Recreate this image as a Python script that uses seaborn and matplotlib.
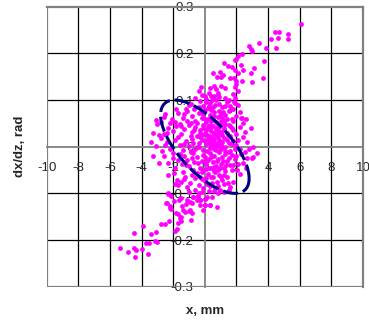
import numpy as np
import pandas as pd
import matplotlib
matplotlib.use("Agg")
import matplotlib.pyplot as plt
import seaborn as sns

# ---- data -----------------------------------------------------------
x_ticks = [-10, -8, -6, -4, -2, 0, 2, 4, 6, 8, 10]
x_tick_labels = ["-10", "-8", "-6", "-4", "-2", "0", "2", "4", "6", "8", "10"]
y_ticks = [-0.3, -0.2, -0.1, 0.0, 0.1, 0.2, 0.3]
y_tick_labels = ["-0.3", "-0.2", "-0.1", "0", "0.1", "0.2", "0.3"]

x_label = "x, mm"
y_label = "dx/dz, rad"

# upper-right tail of the particle cloud
tail_up_x = [6.08, 4.44, 4.71, 5.26, 5.24, 4.65, 4.19, 4.48, 3.87, 3.43, 2.80, 2.92, 3.01,
             2.38, 2.08, 2.00, 1.91, 3.77, 1.22, 2.31, 1.49, 1.70, 3.09, 2.44, 0.97, 0.54,
             2.12, 2.92, 1.14, 0.76, 1.01, 1.56, 1.85, 3.70, 2.00, 2.38, 3.01, 1.96, 0.61,
             1.01, 1.28, -0.23, 0.34, 0.69, 2.12, -0.40, 0.27, 0.82, 1.77, -0.19, 0.38,
             0.90, 1.91, 1.88, 1.90, 1.87]
tail_up_y = [0.262, 0.246, 0.246, 0.241, 0.231, 0.233, 0.230, 0.211, 0.211, 0.222, 0.216,
             0.209, 0.204, 0.198, 0.195, 0.188, 0.185, 0.183, 0.179, 0.174, 0.172, 0.170,
             0.168, 0.164, 0.161, 0.158, 0.157, 0.157, 0.154, 0.149, 0.149, 0.148, 0.148,
             0.148, 0.141, 0.141, 0.138, 0.135, 0.129, 0.130, 0.125, 0.127, 0.125, 0.124,
             0.120, 0.119, 0.114, 0.116, 0.113, 0.111, 0.109, 0.106, 0.105, 0.165, 0.128,
             0.095]

# lower-left tail of the particle cloud
tail_dn_x = [-5.39, -4.89, -4.51, -4.36, -4.42, -3.98, -3.60, -3.71, -3.52, -4.51, -3.88,
             -3.39, -3.16, -3.03, -3.12, -2.78, -2.51, -2.27, -1.86, -1.77, -1.67, -1.52,
             -1.60, -1.48, -0.85, -1.83, -1.67, -1.39, -0.99, -0.82, -2.11, -2.46, -2.19,
             -1.92, -1.64, -1.42, -1.18, -1.14, -0.93, -2.34, -2.15, -0.72, -0.44, 0.00,
             0.33, -0.30, 0.02]
tail_dn_y = [-0.216, -0.226, -0.218, -0.221, -0.237, -0.220, -0.230, -0.207, -0.207,
             -0.184, -0.169, -0.187, -0.202, -0.205, -0.182, -0.166, -0.166, -0.159,
             -0.180, -0.177, -0.164, -0.159, -0.153, -0.150, -0.157, -0.143, -0.145,
             -0.136, -0.138, -0.141, -0.134, -0.121, -0.127, -0.116, -0.115, -0.127,
             -0.123, -0.114, -0.118, -0.101, -0.105, -0.107, -0.105, -0.125, -0.125,
             -0.114, -0.112]

# dense core of the cloud
core_x = [
    -0.9, -0.6, -0.3, -0.1, 0.1, 0.3, 0.5, 0.7, 0.9, 1.1, 1.4, 1.6, 0.2, -0.4, 0.6, 1.9,
    -1.2, 0.0, 0.4, 1.3,
    -3.1, -2.6, -2.5, -2.1, -1.7, -1.4, -1.1, -0.8, -0.6, -0.4, -0.2, 0.0, 0.1, 0.3, 0.5,
    0.6, 0.8, 1.0, 1.2, 1.3, 1.5, 1.7, 2.0, 2.3, 2.4, -1.9, -0.9, 0.4, 1.1, -0.1, 0.7,
    -1.3, -2.8, 0.2, 0.9, 2.34, 1.60,
    -3.0, -2.9, -2.6, -2.3, -2.0, -1.8, -1.5, -1.3, -1.0, -0.8, -0.6, -0.5, -0.3, -0.1,
    0.0, 0.2, 0.3, 0.4, 0.5, 0.6, 0.7, 0.8, 0.9, 1.0, 1.1, 1.2, 1.4, 1.5, 1.6, 1.8, 2.0,
    2.2, 2.55, -1.6, -0.9, 0.1, 0.55, 1.3, 1.7, -0.2, 0.35, 0.85, 1.05,
    -3.1, -2.8, -2.4, -2.5, -2.2, -1.9, -1.6, -1.4, -1.2, -1.0, -0.8, -0.6, -0.4, -0.2,
    -0.1, 0.1, 0.2, 0.3, 0.4, 0.5, 0.6, 0.7, 0.8, 0.9, 1.0, 1.1, 1.2, 1.3, 1.5, 1.6, 1.8,
    2.0, 2.2, 2.65, 3.07, 2.55, 0.15, 0.45, 0.75, 1.05, -0.35, 0.95, 1.4, -0.75, 0.25,
    0.65,
    -2.6, -2.3, -2.0, -1.88, -1.7, -1.45, -1.14, -1.0, -0.72, -0.7, -0.5, -0.3, -0.1,
    0.02, 0.1, 0.2, 0.35, 0.4, 0.5, 0.6, 0.7, 0.8, 0.9, 1.0, 1.1, 1.2, 1.3, 1.4, 1.6,
    1.7, 1.9, 2.1, 2.3, 2.65, 2.97, 3.28, 3.07, -0.9, -0.2, 0.55, 0.85, 1.5, 0.3, -1.3,
    0.05,
    -2.3, -1.98, -1.77, -1.67, -1.4, -1.24, -1.1, -0.93, -0.72, -0.6, -0.4, -0.3, -0.09,
    0.0, 0.2, 0.3, 0.44, 0.54, 0.6, 0.76, 0.9, 1.07, 1.18, 1.39, 1.49, 1.6, 1.70, 1.81,
    2.02, 2.2, -0.1, 0.1, -0.5, -1.5, 0.65, 1.3,
    -2.30, -2.40, -2.19, -0.61, -0.51, -0.30, -0.09, 0.13, -0.93, -1.24, 0.44, 0.76, 0.97,
    0.0, 0.33, -0.30, 0.02, -0.72, -0.44, 1.2, 0.6, -1.0, -0.2, 1.5,
    -0.5, -0.3, 0.0, 0.2, 0.4, 0.6, 0.8, 1.0, 1.2, 1.4, 1.6, 1.8, -0.7, -1.1, -1.5, -2.2,
    -2.4, -1.7, -1.3, -0.9, -0.5, -0.3, 0.0, 0.15, 0.35, 0.55, 0.7, 0.9, 1.1, 1.25, 1.45,
    1.7, 1.9, 2.1, 2.4, 2.8, -2.0, -1.6, -1.2, -0.8, -0.45, -0.15, 0.05, 0.25, 0.45, 0.65,
    0.75, 0.95, 1.15, 1.35, 1.55, 1.8, 2.0, 2.4, 2.6, -1.9, -1.3, -0.8, -0.2, 0.15, 0.4,
    0.85, 1.0, 1.2, -0.35, 0.25, 0.8, -0.8, -1.5, -0.1, 0.3, 0.5, 0.95, 1.15, 0.25, -0.2,
    0.65, 1.75, 2.1, -1.8, -1.0, -0.7, 0.05, 0.45, 0.85, 1.25, 1.55, 2.2, 2.6, 2.9, -3.3,
    -3.4, -2.7, -2.9, -3.3,
]
core_y = [
    0.092, 0.104, 0.098, 0.088, 0.102, 0.094, 0.086, 0.099, 0.091, 0.084, 0.095, 0.087,
    0.083, 0.085, 0.108, 0.093, 0.081, 0.109, 0.081, 0.105,
    0.057, 0.064, 0.069, 0.060, 0.073, 0.062, 0.077, 0.066, 0.055, 0.072, 0.061, 0.078,
    0.052, 0.068, 0.058, 0.075, 0.063, 0.071, 0.054, 0.067, 0.076, 0.059, 0.066, 0.061,
    0.050, 0.052, 0.051, 0.079, 0.062, 0.069, 0.053, 0.070, 0.052, 0.060, 0.077, 0.061,
    0.079,
    0.048, 0.025, 0.027, 0.041, 0.033, 0.045, 0.028, 0.038, 0.046, 0.031, 0.042, 0.024,
    0.036, 0.047, 0.029, 0.040, 0.022, 0.034, 0.045, 0.028, 0.038, 0.021, 0.043, 0.032,
    0.025, 0.041, 0.030, 0.046, 0.023, 0.036, 0.028, 0.043, 0.032, 0.049, 0.022, 0.035,
    0.030, 0.048, 0.040, 0.026, 0.047, 0.033, 0.046,
    0.002, 0.018, 0.011, 0.004, -0.005, 0.014, 0.003, -0.008, 0.012, 0.001, 0.017,
    -0.004, 0.009, 0.015, -0.007, 0.006, 0.018, -0.002, 0.011, 0.003, 0.016, -0.006,
    0.008, 0.014, -0.003, 0.010, 0.019, 0.000, 0.007, -0.009, 0.012, 0.004, -0.004,
    0.011, 0.000, -0.011, -0.009, 0.019, 0.002, 0.006, -0.001, -0.008, 0.015, 0.007,
    0.012, 0.009,
    -0.020, -0.035, -0.014, -0.046, -0.028, -0.036, -0.029, -0.042, -0.014, -0.033,
    -0.023, -0.045, -0.017, -0.021, -0.038, -0.028, -0.013, -0.046, -0.033, -0.019,
    -0.041, -0.026, -0.012, -0.036, -0.022, -0.045, -0.015, -0.030, -0.040, -0.018,
    -0.027, -0.036, -0.016, -0.025, -0.025, -0.014, -0.021, -0.011, -0.031, -0.044,
    -0.049, -0.011, -0.024, -0.019, -0.047,
    -0.061, -0.057, -0.071, -0.082, -0.055, -0.064, -0.087, -0.078, -0.050, -0.068,
    -0.083, -0.064, -0.050, -0.073, -0.059, -0.085, -0.078, -0.064, -0.052, -0.075,
    -0.060, -0.071, -0.061, -0.064, -0.078, -0.086, -0.050, -0.075, -0.050, -0.058,
    -0.088, -0.066, -0.056, -0.075, -0.088, -0.053,
    -0.100, -0.121, -0.132, -0.093, -0.114, -0.125, -0.136, -0.107, -0.136, -0.139,
    -0.107, -0.129, -0.093, -0.125, -0.125, -0.114, -0.112, -0.107, -0.105, -0.098,
    -0.095, -0.096, -0.097, -0.092,
    0.050, 0.030, 0.060, 0.045, 0.055, 0.065, 0.045, 0.055, 0.035, 0.060, 0.045, 0.055,
    0.035, 0.055, 0.045, 0.050, 0.030, 0.020, 0.005, -0.010, 0.000, 0.020, 0.012, 0.025,
    0.005, -0.005, 0.025, 0.030, 0.000, -0.010, 0.025, 0.005, -0.005, 0.015, 0.020,
    -0.005, -0.025, -0.015, -0.040, -0.025, -0.035, -0.055, -0.030, -0.045, -0.020,
    -0.055, -0.030, -0.045, -0.030, -0.040, -0.025, -0.040, -0.020, -0.035, -0.045,
    -0.080, -0.070, -0.060, -0.070, -0.080, -0.065, -0.085, -0.065, -0.080, -0.100,
    -0.095, -0.100, -0.120, -0.110, 0.040, 0.038, 0.015, 0.065, 0.075, 0.088, 0.075,
    0.090, 0.080, 0.090, 0.080, 0.090, 0.080, 0.095, 0.100, 0.110, 0.088, 0.100, 0.075,
    0.060, 0.040, 0.030, 0.010, -0.010, -0.035, -0.020,
]

# beam emittance ellipse (x = a cos t, x' = b cos(t + phase))
ellipse_a = 2.8
ellipse_b = 0.10
ellipse_phase = 2.32

# ---- figure ---------------------------------------------------------
sns.set_style("white")
plt.rcParams["font.family"] = ["Liberation Sans", "DejaVu Sans"]

fig = plt.figure(figsize=(3.69, 3.21), dpi=100)
ax = fig.add_axes([46.7 / 369, 1 - 286.7 / 321, (363 - 46.7) / 369, (286.7 - 6.7) / 321])

pts = pd.DataFrame({
    "x": tail_up_x + tail_dn_x + core_x,
    "y": tail_up_y + tail_dn_y + core_y,
})
sns.scatterplot(data=pts, x="x", y="y", color="#FF00FF", s=12, marker="o",
                linewidth=0, ax=ax, zorder=3)

t = np.linspace(0, 2 * np.pi, 400)
ell = pd.DataFrame({"x": ellipse_a * np.cos(t),
                    "y": ellipse_b * np.cos(t + ellipse_phase)})
ax.plot(ell["x"], ell["y"], color="#000080", lw=2.2, dashes=(5, 1.6), zorder=4)

ax.set_xlim(x_ticks[0], x_ticks[-1])
ax.set_ylim(y_ticks[0], y_ticks[-1])

# grid
for xv in x_ticks[1:-1]:
    if xv != 0:
        ax.axvline(xv, color="black", lw=0.9, zorder=0.5)
for yv in y_ticks[1:-1]:
    if yv != 0:
        ax.axhline(yv, color="black", lw=0.9, zorder=0.5)
ax.axvline(x_ticks[0], color="#808080", lw=1.6, zorder=0.6)
ax.axhline(y_ticks[0], color="#808080", lw=1.6, zorder=0.6)

for side in ["top", "right"]:
    ax.spines[side].set_color("#808080")
    ax.spines[side].set_linewidth(1.6)
for side in ["left", "bottom"]:
    ax.spines[side].set_position(("data", 0))
    ax.spines[side].set_color("#808080")
    ax.spines[side].set_linewidth(1.3)
    ax.spines[side].set_zorder(0.7)

ax.set_xticks(x_ticks)
ax.set_xticklabels(x_tick_labels)
ax.set_yticks(y_ticks)
ax.set_yticklabels(y_tick_labels)
ax.tick_params(axis="x", direction="out", length=3, width=1, color="#808080",
               pad=8, labelsize=9.5)
ax.tick_params(axis="y", direction="out", length=4, width=1, color="#808080",
               pad=4, labelsize=9.5)
ax.set_xlabel("")
ax.set_ylabel("")

fig.text(205 / 369, 1 - 311.5 / 321, x_label, ha="center", va="center",
         fontsize=9.5, fontweight="bold")
fig.text(20 / 369, 1 - 146.7 / 321, y_label, ha="center", va="center",
         rotation=90, fontsize=9.5, fontweight="bold")

fig.savefig("out.png", dpi=100)
